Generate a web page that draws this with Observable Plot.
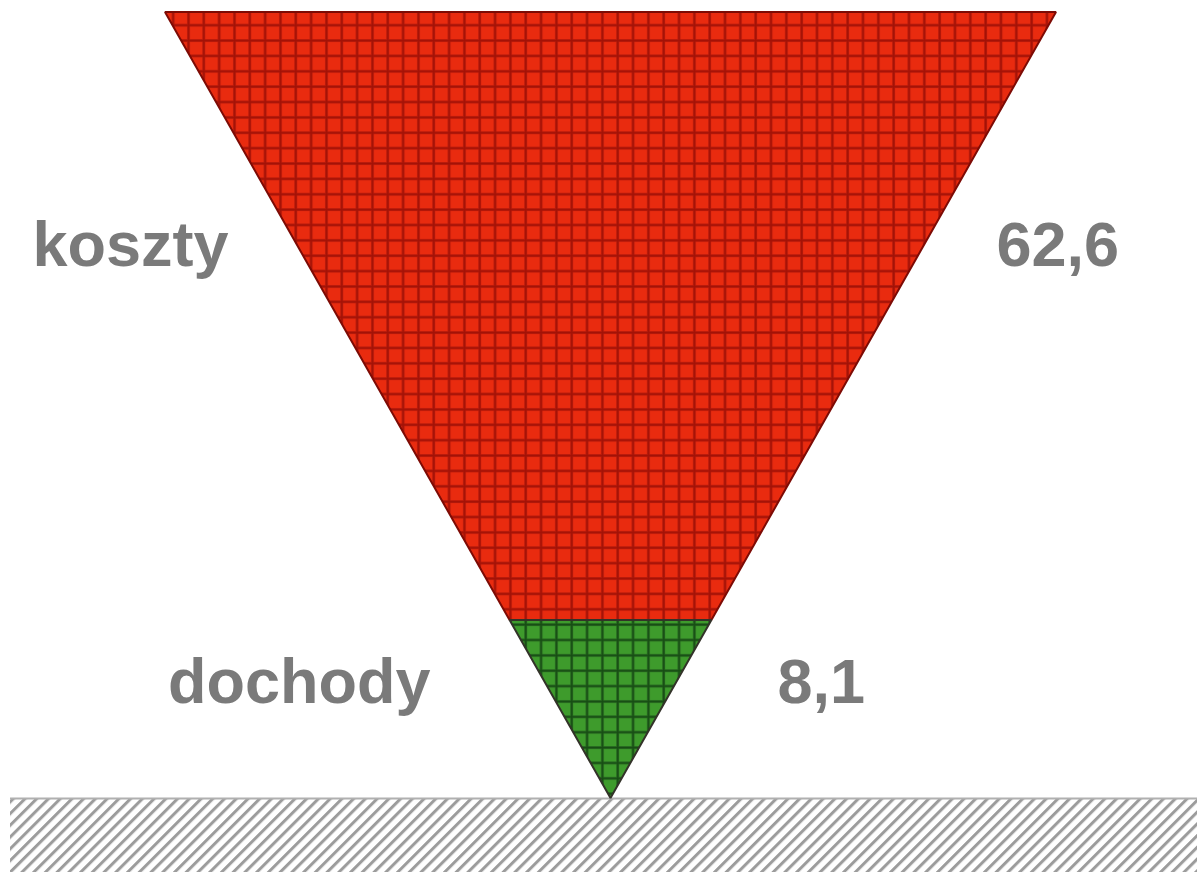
<!DOCTYPE html>
<html><head><meta charset="utf-8">
<script src="https://cdn.jsdelivr.net/npm/d3@7"></script>
<script src="https://cdn.jsdelivr.net/npm/@observablehq/plot@0.6"></script>
<style>html,body{margin:0;padding:0;background:#fff;overflow:hidden}</style>
</head><body><div id="chart"></div>
<script>
// ---- data ----
const categories = ["koszty", "dochody"];
const values = [62.6, 8.1];
const valueLabels = ["62,6", "8,1"];
// relative height of each band in the funnel (apex = 0, top = 1)
const bandTop = [1, 0.2265];
const bandBottom = [0.2265, 0];

// ---- layout (not data) ----
const W = 1197, H = 872;
const labelLevel = [0.678, 0.121];
const leftLabelX = [-0.8586, -0.4052];
const rightLabelX = [0.8653, 0.3737];
const fills = ["url(#gridRed)", "url(#gridGreen)"];
const strokes = ["#7d0b05", "#333329"];

const bands = categories.flatMap((c, i) => [
  {cat: c, y: bandBottom[i], x1: -bandBottom[i], x2: bandBottom[i]},
  {cat: c, y: bandTop[i], x1: -bandTop[i], x2: bandTop[i]}
]);
const labels = categories.map((c, i) => ({
  cat: c, value: values[i], text: valueLabels[i],
  y: labelLevel[i], xl: leftLabelX[i], xr: rightLabelX[i]
}));

const font = {fontFamily: "'Liberation Sans', Arial, sans-serif", fontWeight: "bold", fontSize: 63, fill: "#7a7a7a", lineAnchor: "bottom"};

const svg = Plot.plot({
  width: W, height: H,
  margin: 0,
  x: {domain: [-1.37037, 1.31650], axis: null},
  y: {domain: [-0.09415, 1.01527], axis: null},
  style: {background: "#fff", overflow: "hidden"},
  marks: [
    Plot.rect([0], {x1: -1.3479, x2: 1.3165, y1: -0.0942, y2: 0, fill: "url(#hatch)"}),
    Plot.ruleY([0], {x1: -1.3479, x2: 1.3165, stroke: "#b0b0b0", strokeWidth: 2}),
    ...categories.map((c, i) => Plot.areaX(bands.filter(d => d.cat === c), {
      y: "y", x1: "x1", x2: "x2", fill: fills[i], stroke: strokes[i], strokeWidth: 2, strokeLinejoin: "miter"
    })),
    Plot.text(labels, {x: "xl", y: "y", text: "cat", textAnchor: "end", ...font}),
    Plot.text(labels, {x: "xr", y: "y", text: "text", textAnchor: "start", ...font})
  ]
});

// patterns
const defs = d3.select(svg).insert("defs", ":first-child");
function grid(id, bg, line, core) {
  const cw = 15.33, ch = 15.37;
  const p = defs.append("pattern").attr("id", id).attr("patternUnits", "userSpaceOnUse")
    .attr("width", cw).attr("height", ch).attr("x", 602.35 - 1.5).attr("y", 778.3 - 1.5);
  p.append("rect").attr("width", cw).attr("height", ch).attr("fill", bg);
  p.append("rect").attr("x", 0).attr("y", 0).attr("width", 3).attr("height", ch).attr("fill", line);
  p.append("rect").attr("x", 0).attr("y", 0).attr("width", cw).attr("height", 3).attr("fill", line);
  p.append("rect").attr("x", 0.8).attr("y", 0).attr("width", 1.6).attr("height", ch).attr("fill", core);
  p.append("rect").attr("x", 0).attr("y", 0.8).attr("width", cw).attr("height", 1.6).attr("fill", core);
}
grid("gridRed", "#e92b0f", "#bf1c0b", "#a31207");
grid("gridGreen", "#3e9b2c", "#2a6e22", "#174d14");
const h = defs.append("pattern").attr("id", "hatch").attr("patternUnits", "userSpaceOnUse")
  .attr("width", 8.3).attr("height", 8.3).attr("patternTransform", "rotate(45)");
h.append("rect").attr("width", 8.3).attr("height", 8.3).attr("fill", "#fff");
h.append("rect").attr("x", 0).attr("width", 3).attr("height", 8.3).attr("fill", "#9c9c9c");

document.getElementById("chart").appendChild(svg);
</script>
</body></html>
